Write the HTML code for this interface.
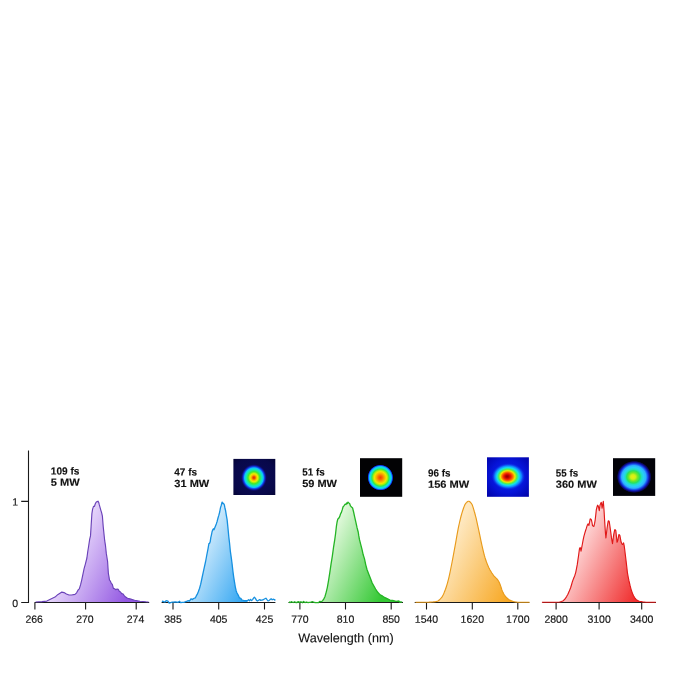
<!DOCTYPE html>
<html lang="en"><head><meta charset="utf-8"><title>Wavelength spectra</title>
<style>
html,body{margin:0;padding:0;background:#fff;}
body{width:696px;height:696px;overflow:hidden;}
svg{display:block;}
text{font-family:"Liberation Sans",Arial,sans-serif;fill:#111;text-rendering:geometricPrecision;}
.tk{font-size:10.5px;text-anchor:middle;stroke:#111;stroke-width:0.15px;}
.yl{font-size:10.5px;text-anchor:end;stroke:#111;stroke-width:0.15px;}
.lb{font-size:10.3px;font-weight:bold;stroke:#111;stroke-width:0.12px;}
.xl{font-size:12.7px;text-anchor:middle;stroke:#111;stroke-width:0.12px;}
.ax{stroke:#1a1a1a;stroke-width:1.1;fill:none;}
</style></head><body>
<svg width="696" height="696" viewBox="0 0 696 696">
<rect width="696" height="696" fill="#fff"/>
<defs>
<linearGradient id="gp" gradientUnits="userSpaceOnUse" x1="80.8" y1="521.4" x2="148.6" y2="553.9"><stop offset="0" stop-color="#ecdffc"/><stop offset="1" stop-color="#9358e2"/></linearGradient>
<linearGradient id="gb" gradientUnits="userSpaceOnUse" x1="207.3" y1="522.1" x2="275.4" y2="554.3"><stop offset="0" stop-color="#dcf0fd"/><stop offset="1" stop-color="#1c9cf0"/></linearGradient>
<linearGradient id="gg" gradientUnits="userSpaceOnUse" x1="334.2" y1="522.2" x2="402.2" y2="554.3"><stop offset="0" stop-color="#e6fae0"/><stop offset="1" stop-color="#34c834"/></linearGradient>
<linearGradient id="go" gradientUnits="userSpaceOnUse" x1="461.1" y1="521.5" x2="529.5" y2="553.9"><stop offset="0" stop-color="#fee8c0"/><stop offset="1" stop-color="#f7a824"/></linearGradient>
<linearGradient id="gr" gradientUnits="userSpaceOnUse" x1="587.5" y1="521.5" x2="655.8" y2="553.9"><stop offset="0" stop-color="#fed8d8"/><stop offset="1" stop-color="#f03030"/></linearGradient>
<radialGradient id="b1" cx="0.5" cy="0.5" r="0.5">
<stop offset="0" stop-color="#e02800"/><stop offset="0.09" stop-color="#ee5000"/><stop offset="0.195" stop-color="#f8b800"/><stop offset="0.29" stop-color="#e8f000"/><stop offset="0.44" stop-color="#40e830"/><stop offset="0.60" stop-color="#10e8c0"/><stop offset="0.71" stop-color="#10c0ff"/><stop offset="0.79" stop-color="#1050f0"/><stop offset="0.87" stop-color="#1018a8"/><stop offset="1" stop-color="#0a0a52" stop-opacity="0"/></radialGradient>
<radialGradient id="b2" cx="0.5" cy="0.5" r="0.5">
<stop offset="0" stop-color="#f04000"/><stop offset="0.15" stop-color="#f86800"/><stop offset="0.30" stop-color="#f8a800"/><stop offset="0.46" stop-color="#f0e800"/><stop offset="0.56" stop-color="#a0f010"/><stop offset="0.66" stop-color="#30e850"/><stop offset="0.76" stop-color="#10e8d0"/><stop offset="0.86" stop-color="#10c0ff"/><stop offset="0.93" stop-color="#1040f0"/><stop offset="0.98" stop-color="#080870"/><stop offset="1" stop-color="#000010" stop-opacity="0"/></radialGradient>
<radialGradient id="b3" cx="0.5" cy="0.5" r="0.5" fx="0.46" fy="0.5">
<stop offset="0" stop-color="#900000"/><stop offset="0.10" stop-color="#b80000"/><stop offset="0.22" stop-color="#f02000"/><stop offset="0.33" stop-color="#f87800"/><stop offset="0.43" stop-color="#f0e800"/><stop offset="0.54" stop-color="#50f050"/><stop offset="0.66" stop-color="#10e0f0"/><stop offset="0.80" stop-color="#1080ff"/><stop offset="1" stop-color="#0c28e8" stop-opacity="0"/></radialGradient>
<radialGradient id="b3bg" cx="0.5" cy="0.48" r="0.75">
<stop offset="0" stop-color="#0c2cf0"/><stop offset="0.55" stop-color="#0614d8"/><stop offset="1" stop-color="#0000a0"/></radialGradient>
<radialGradient id="b4" cx="0.5" cy="0.5" r="0.5" fx="0.46" fy="0.5">
<stop offset="0" stop-color="#e8f010"/><stop offset="0.14" stop-color="#d0f018"/><stop offset="0.26" stop-color="#70e828"/><stop offset="0.38" stop-color="#28e060"/><stop offset="0.47" stop-color="#20e0c0"/><stop offset="0.58" stop-color="#28d0f8"/><stop offset="0.70" stop-color="#30b0ff"/><stop offset="0.79" stop-color="#1850f0"/><stop offset="0.88" stop-color="#1010a0"/><stop offset="0.96" stop-color="#060640"/><stop offset="1" stop-color="#000008" stop-opacity="0"/></radialGradient>
<radialGradient id="b1bg" cx="0.5" cy="0.5" r="0.75">
<stop offset="0" stop-color="#0b0b58"/><stop offset="0.7" stop-color="#08084a"/><stop offset="1" stop-color="#040430"/></radialGradient>
</defs>
<path class="ax" d="M28.5,450.6 V603.0 M21.2,501.4 H28.5 M21.2,602.5 H29"/>
<text class="yl" x="18.2" y="505.5" transform="rotate(0.03 18.2 505.5)">1</text>
<text class="yl" x="18.2" y="606.9" transform="rotate(0.03 18.2 606.9)">0</text>
<path d="M35.6,602.0 L42.0,601.6 L46.8,601.1 L52.4,598.3 L55.0,597.1 L58.0,594.4 L60.0,593.2 L61.8,592.1 L64.0,592.6 L66.4,594.0 L69.0,595.0 L71.5,595.0 L75.0,594.4 L76.6,592.8 L78.2,589.9 L79.3,588.8 L80.6,584.7 L81.7,580.1 L82.9,574.3 L84.1,568.7 L85.3,564.3 L86.9,558.0 L87.7,552.0 L88.5,547.0 L89.7,539.2 L90.5,535.9 L91.1,526.3 L91.9,513.6 L92.6,509.2 L93.2,507.3 L93.5,506.3 L94.5,506.3 L95.3,503.8 L96.1,502.3 L97.2,501.6 L98.1,501.2 L98.7,502.4 L99.2,504.4 L100.8,510.1 L101.6,512.6 L102.4,516.2 L103.2,526.4 L104.7,540.7 L105.5,545.7 L106.3,553.4 L107.6,561.5 L108.0,567.9 L108.4,573.7 L109.0,576.8 L109.5,580.2 L110.4,581.1 L111.4,583.6 L112.3,584.3 L113.4,588.4 L114.6,588.7 L115.8,589.7 L117.0,589.1 L118.2,589.4 L119.3,591.3 L120.5,592.0 L121.7,593.6 L122.9,593.7 L124.0,595.4 L125.3,596.8 L127.5,598.3 L130.0,598.9 L134.6,600.3 L140.0,601.2 L145.8,601.8 L148.6,602.0 L148.6,602.5 L35.6,602.5 Z" fill="url(#gp)" stroke="none"/>
<path class="ax" d="M34.5,602.5 H149.2 M34.9,602.5 V609.6 M85.6,602.5 V609.6 M136.2,602.5 V609.6"/>
<path d="M35.6,602.0 L42.0,601.6 L46.8,601.1 L52.4,598.3 L55.0,597.1 L58.0,594.4 L60.0,593.2 L61.8,592.1 L64.0,592.6 L66.4,594.0 L69.0,595.0 L71.5,595.0 L75.0,594.4 L76.6,592.8 L78.2,589.9 L79.3,588.8 L80.6,584.7 L81.7,580.1 L82.9,574.3 L84.1,568.7 L85.3,564.3 L86.9,558.0 L87.7,552.0 L88.5,547.0 L89.7,539.2 L90.5,535.9 L91.1,526.3 L91.9,513.6 L92.6,509.2 L93.2,507.3 L93.5,506.3 L94.5,506.3 L95.3,503.8 L96.1,502.3 L97.2,501.6 L98.1,501.2 L98.7,502.4 L99.2,504.4 L100.8,510.1 L101.6,512.6 L102.4,516.2 L103.2,526.4 L104.7,540.7 L105.5,545.7 L106.3,553.4 L107.6,561.5 L108.0,567.9 L108.4,573.7 L109.0,576.8 L109.5,580.2 L110.4,581.1 L111.4,583.6 L112.3,584.3 L113.4,588.4 L114.6,588.7 L115.8,589.7 L117.0,589.1 L118.2,589.4 L119.3,591.3 L120.5,592.0 L121.7,593.6 L122.9,593.7 L124.0,595.4 L125.3,596.8 L127.5,598.3 L130.0,598.9 L134.6,600.3 L140.0,601.2 L145.8,601.8 L148.6,602.0" fill="none" stroke="#6a42b8" stroke-width="1.15" stroke-linejoin="round"/>
<text class="tk" x="34.2" y="622.7" transform="rotate(0.03 34.2 622.7)">266</text>
<text class="tk" x="84.9" y="622.7" transform="rotate(0.03 84.9 622.7)">270</text>
<text class="tk" x="135.5" y="622.7" transform="rotate(0.03 135.5 622.7)">274</text>
<text class="lb" x="50.8" y="474.4" transform="rotate(0.03 50.8 474.4)" textLength="28.6" lengthAdjust="spacingAndGlyphs">109 fs</text>
<text class="lb" x="50.8" y="485.7" transform="rotate(0.03 50.8 485.7)" textLength="28.9" lengthAdjust="spacingAndGlyphs">5 MW</text>
<path d="M187.0,601.3 L188.2,600.6 L189.4,601.1 L191.0,598.8 L192.4,599.6 L193.6,598.5 L195.4,597.8 L196.4,595.7 L197.2,594.4 L198.2,592.0 L199.5,588.5 L200.7,584.2 L201.9,578.5 L203.1,572.8 L204.3,567.3 L205.6,561.5 L206.8,555.0 L208.1,548.3 L208.9,543.6 L209.6,543.3 L210.2,541.8 L210.8,537.7 L211.4,535.1 L212.0,532.0 L212.6,530.1 L213.4,528.7 L214.0,529.8 L214.6,528.3 L215.5,525.9 L216.3,523.9 L217.2,521.2 L218.0,518.0 L218.8,515.4 L219.7,512.0 L220.5,507.6 L221.3,505.2 L221.8,503.1 L222.2,502.1 L222.7,503.6 L223.2,503.1 L223.8,503.8 L224.4,505.1 L225.0,508.5 L225.5,510.2 L226.3,515.2 L227.1,519.6 L228.0,528.4 L228.8,536.8 L229.6,543.5 L230.4,551.7 L231.3,557.8 L232.1,564.0 L232.9,571.1 L233.7,577.1 L234.6,582.7 L235.4,587.5 L236.2,590.9 L237.0,593.0 L238.2,595.1 L239.5,597.9 L240.8,598.4 L242.0,600.0 L244.0,600.6 L246.0,600.7 L247.5,600.6 L247.5,602.5 L187.0,602.5 Z" fill="url(#gb)" stroke="none"/>
<path class="ax" d="M161.6,602.5 H275.4 M173.0,602.5 V609.6 M218.7,602.5 V609.6 M264.5,602.5 V609.6"/>
<path d="M161.9,601.1 L163.4,601.5 L165.0,602.1 L166.1,600.6 L167.9,601.2 L169.2,603.0 L170.7,602.6 L172.2,602.1 L173.3,602.1 L175.2,601.9 L176.9,602.2 L178.0,602.4 L179.6,601.3 L180.7,602.7 L182.1,602.3 L184.0,602.3 L185.9,601.5 L187.0,601.3 L188.2,600.6 L189.4,601.1 L191.0,598.8 L192.4,599.6 L193.6,598.5 L195.4,597.8 L196.4,595.7 L197.2,594.4 L198.2,592.0 L199.5,588.5 L200.7,584.2 L201.9,578.5 L203.1,572.8 L204.3,567.3 L205.6,561.5 L206.8,555.0 L208.1,548.3 L208.9,543.6 L209.6,543.3 L210.2,541.8 L210.8,537.7 L211.4,535.1 L212.0,532.0 L212.6,530.1 L213.4,528.7 L214.0,529.8 L214.6,528.3 L215.5,525.9 L216.3,523.9 L217.2,521.2 L218.0,518.0 L218.8,515.4 L219.7,512.0 L220.5,507.6 L221.3,505.2 L221.8,503.1 L222.2,502.1 L222.7,503.6 L223.2,503.1 L223.8,503.8 L224.4,505.1 L225.0,508.5 L225.5,510.2 L226.3,515.2 L227.1,519.6 L228.0,528.4 L228.8,536.8 L229.6,543.5 L230.4,551.7 L231.3,557.8 L232.1,564.0 L232.9,571.1 L233.7,577.1 L234.6,582.7 L235.4,587.5 L236.2,590.9 L237.0,593.0 L238.2,595.1 L239.5,597.9 L240.8,598.4 L242.0,600.0 L244.0,600.6 L246.0,600.7 L247.5,600.6 L248.5,599.6 L249.5,600.8 L250.5,599.4 L251.6,600.6 L252.6,599.6 L253.5,598.2 L254.4,597.2 L255.4,598.4 L256.5,600.4 L257.5,601.0 L258.6,600.2 L259.7,599.6 L260.8,600.4 L262.0,600.0 L263.2,599.8 L264.4,599.0 L265.9,598.2 L267.0,599.6 L268.0,600.8 L269.0,600.6 L270.0,599.6 L271.2,598.8 L272.2,599.8 L273.2,599.2 L274.3,599.6 L275.4,600.4" fill="none" stroke="#1690e0" stroke-width="1.3" stroke-linejoin="round"/>
<text class="tk" x="173.0" y="622.7" transform="rotate(0.03 173.0 622.7)">385</text>
<text class="tk" x="218.7" y="622.7" transform="rotate(0.03 218.7 622.7)">405</text>
<text class="tk" x="264.5" y="622.7" transform="rotate(0.03 264.5 622.7)">425</text>
<text class="lb" x="174.3" y="475.6" transform="rotate(0.03 174.3 475.6)" textLength="22.7" lengthAdjust="spacingAndGlyphs">47 fs</text>
<text class="lb" x="174.3" y="486.9" transform="rotate(0.03 174.3 486.9)" textLength="35.0" lengthAdjust="spacingAndGlyphs">31 MW</text>
<path d="M288.9,601.9 L290.2,602.6 L291.4,601.7 L292.3,602.1 L293.3,602.5 L294.7,601.7 L295.8,602.5 L297.1,602.5 L298.2,601.6 L299.2,602.5 L300.2,601.9 L301.4,602.0 L302.5,602.7 L303.5,601.4 L305.0,602.6 L306.5,602.0 L308.1,602.7 L309.1,602.4 L310.5,602.3 L311.7,601.8 L312.8,601.7 L313.7,602.2 L314.7,602.5 L315.6,602.7 L316.9,602.7 L318.4,602.7 L319.7,601.4 L321.1,601.6 L321.6,601.6 L322.6,600.6 L323.7,599.1 L324.9,596.7 L326.1,592.6 L327.3,587.6 L328.5,580.9 L329.8,572.6 L331.0,564.4 L332.3,556.3 L333.5,547.7 L334.8,539.4 L335.6,533.5 L336.4,526.4 L337.0,522.5 L337.7,519.3 L338.7,518.3 L339.7,516.6 L340.5,514.0 L341.4,512.4 L342.2,509.9 L343.0,507.0 L344.1,505.6 L345.2,504.1 L346.0,504.5 L346.7,502.9 L347.4,503.6 L348.0,502.1 L348.8,502.9 L349.6,503.5 L350.5,505.9 L351.5,507.1 L352.6,508.0 L353.6,512.0 L354.6,516.6 L355.8,521.8 L357.1,527.9 L358.2,532.0 L358.8,535.9 L359.5,539.7 L360.7,544.3 L362.0,549.4 L363.2,554.8 L364.5,558.9 L365.7,564.6 L367.0,569.5 L368.6,573.8 L370.3,578.1 L372.0,582.6 L373.6,585.5 L375.6,589.0 L377.7,592.3 L380.2,594.9 L382.7,596.2 L385.1,597.7 L387.6,598.8 L390.0,600.1 L392.6,600.3 L396.0,601.3 L399.0,601.0 L399.5,602.2 L400.7,601.9 L402.2,602.1 L402.2,602.5 L288.9,602.5 Z" fill="url(#gg)" stroke="none"/>
<path class="ax" d="M288.5,602.5 H403 M299.9,602.5 V609.6 M345.5,602.5 V609.6 M391.2,602.5 V609.6"/>
<path d="M288.9,601.9 L290.2,602.6 L291.4,601.7 L292.3,602.1 L293.3,602.5 L294.7,601.7 L295.8,602.5 L297.1,602.5 L298.2,601.6 L299.2,602.5 L300.2,601.9 L301.4,602.0 L302.5,602.7 L303.5,601.4 L305.0,602.6 L306.5,602.0 L308.1,602.7 L309.1,602.4 L310.5,602.3 L311.7,601.8 L312.8,601.7 L313.7,602.2 L314.7,602.5 L315.6,602.7 L316.9,602.7 L318.4,602.7 L319.7,601.4 L321.1,601.6 L321.6,601.6 L322.6,600.6 L323.7,599.1 L324.9,596.7 L326.1,592.6 L327.3,587.6 L328.5,580.9 L329.8,572.6 L331.0,564.4 L332.3,556.3 L333.5,547.7 L334.8,539.4 L335.6,533.5 L336.4,526.4 L337.0,522.5 L337.7,519.3 L338.7,518.3 L339.7,516.6 L340.5,514.0 L341.4,512.4 L342.2,509.9 L343.0,507.0 L344.1,505.6 L345.2,504.1 L346.0,504.5 L346.7,502.9 L347.4,503.6 L348.0,502.1 L348.8,502.9 L349.6,503.5 L350.5,505.9 L351.5,507.1 L352.6,508.0 L353.6,512.0 L354.6,516.6 L355.8,521.8 L357.1,527.9 L358.2,532.0 L358.8,535.9 L359.5,539.7 L360.7,544.3 L362.0,549.4 L363.2,554.8 L364.5,558.9 L365.7,564.6 L367.0,569.5 L368.6,573.8 L370.3,578.1 L372.0,582.6 L373.6,585.5 L375.6,589.0 L377.7,592.3 L380.2,594.9 L382.7,596.2 L385.1,597.7 L387.6,598.8 L390.0,600.1 L392.6,600.3 L396.0,601.3 L399.0,601.0 L399.5,602.2 L400.7,601.9 L402.2,602.1" fill="none" stroke="#24b424" stroke-width="1.3" stroke-linejoin="round"/>
<text class="tk" x="299.9" y="622.7" transform="rotate(0.03 299.9 622.7)">770</text>
<text class="tk" x="345.5" y="622.7" transform="rotate(0.03 345.5 622.7)">810</text>
<text class="tk" x="391.2" y="622.7" transform="rotate(0.03 391.2 622.7)">850</text>
<text class="lb" x="302.2" y="475.6" transform="rotate(0.03 302.2 475.6)" textLength="22.5" lengthAdjust="spacingAndGlyphs">51 fs</text>
<text class="lb" x="302.2" y="486.9" transform="rotate(0.03 302.2 486.9)" textLength="34.8" lengthAdjust="spacingAndGlyphs">59 MW</text>
<path d="M415.5,602.2 L416.1,602.2 L416.7,602.2 L417.3,602.2 L417.9,602.2 L418.5,602.2 L419.1,602.2 L419.7,602.2 L420.3,602.2 L420.9,602.2 L421.5,602.2 L422.1,602.2 L422.7,602.2 L423.3,602.2 L423.9,602.2 L424.5,602.2 L425.1,602.2 L425.7,602.2 L426.3,602.2 L426.9,602.2 L427.5,602.2 L428.1,602.2 L428.7,602.2 L429.3,602.1 L429.9,602.1 L430.5,602.1 L431.1,602.1 L431.7,602.0 L432.3,602.0 L432.9,602.0 L433.5,601.9 L434.1,601.9 L434.7,601.8 L435.3,601.7 L435.9,601.6 L436.5,601.5 L437.1,601.3 L437.7,601.1 L438.3,600.8 L438.9,600.3 L439.5,599.8 L440.1,599.2 L440.7,598.5 L441.3,597.8 L441.9,597.1 L442.5,596.1 L443.1,595.0 L443.7,593.7 L444.3,592.3 L444.9,590.8 L445.5,589.3 L446.1,587.5 L446.7,585.6 L447.3,583.6 L447.9,581.4 L448.5,579.1 L449.1,576.6 L449.7,573.9 L450.3,571.0 L450.9,568.0 L451.5,565.0 L452.1,562.0 L452.7,558.9 L453.3,555.7 L453.9,552.4 L454.5,549.2 L455.1,545.9 L455.7,542.6 L456.3,539.2 L456.9,535.7 L457.5,532.4 L458.1,529.1 L458.7,526.2 L459.3,523.5 L459.9,520.8 L460.5,518.3 L461.1,516.0 L461.7,513.8 L462.3,511.9 L462.9,510.0 L463.5,508.2 L464.1,506.6 L464.7,505.1 L465.3,504.0 L465.9,503.2 L466.5,502.6 L467.1,501.9 L467.7,501.5 L468.3,501.2 L468.9,501.2 L469.5,501.5 L470.1,502.0 L470.7,502.6 L471.3,503.3 L471.9,504.2 L472.5,505.6 L473.1,507.4 L473.7,509.3 L474.3,511.5 L474.9,513.5 L475.5,515.8 L476.1,518.2 L476.7,520.9 L477.3,523.6 L477.9,526.3 L478.5,529.0 L479.1,531.8 L479.7,534.7 L480.3,537.7 L480.9,540.6 L481.5,543.3 L482.1,546.0 L482.7,548.6 L483.3,551.2 L483.9,553.6 L484.5,555.9 L485.1,557.9 L485.7,559.7 L486.3,561.5 L486.9,563.1 L487.5,564.6 L488.1,566.1 L488.7,567.4 L489.3,568.6 L489.9,569.8 L490.5,570.8 L491.1,571.8 L491.7,572.8 L492.3,573.7 L492.9,574.5 L493.5,575.3 L494.1,576.1 L494.7,576.7 L495.3,577.3 L495.9,577.9 L496.5,578.4 L497.1,579.1 L497.7,579.9 L498.3,580.8 L498.9,581.8 L499.5,583.0 L500.1,584.5 L500.7,586.1 L501.3,588.0 L501.9,589.9 L502.5,591.4 L503.1,592.6 L503.7,593.8 L504.3,594.8 L504.9,595.7 L505.5,596.5 L506.1,597.1 L506.7,597.7 L507.3,598.3 L507.9,598.8 L508.5,599.2 L509.1,599.7 L509.7,600.0 L510.3,600.4 L510.9,600.6 L511.5,600.9 L512.1,601.1 L512.7,601.3 L513.3,601.5 L513.9,601.7 L514.5,601.8 L515.1,601.9 L515.7,602.0 L516.3,602.0 L516.9,602.1 L517.5,602.2 L518.1,602.2 L518.7,602.2 L519.3,602.2 L519.9,602.2 L520.5,602.2 L521.1,602.2 L521.7,602.2 L522.3,602.2 L522.9,602.2 L523.5,602.2 L524.1,602.2 L524.7,602.2 L525.3,602.2 L525.9,602.2 L526.5,602.2 L527.1,602.2 L527.7,602.2 L528.3,602.2 L528.9,602.2 L529.5,602.2 L529.5,602.5 L415.5,602.5 Z" fill="url(#go)" stroke="none"/>
<path class="ax" d="M414.7,602.5 H529.3 M426.5,602.5 V609.6 M472.3,602.5 V609.6 M517.8,602.5 V609.6"/>
<path d="M415.5,602.2 L416.1,602.2 L416.7,602.2 L417.3,602.2 L417.9,602.2 L418.5,602.2 L419.1,602.2 L419.7,602.2 L420.3,602.2 L420.9,602.2 L421.5,602.2 L422.1,602.2 L422.7,602.2 L423.3,602.2 L423.9,602.2 L424.5,602.2 L425.1,602.2 L425.7,602.2 L426.3,602.2 L426.9,602.2 L427.5,602.2 L428.1,602.2 L428.7,602.2 L429.3,602.1 L429.9,602.1 L430.5,602.1 L431.1,602.1 L431.7,602.0 L432.3,602.0 L432.9,602.0 L433.5,601.9 L434.1,601.9 L434.7,601.8 L435.3,601.7 L435.9,601.6 L436.5,601.5 L437.1,601.3 L437.7,601.1 L438.3,600.8 L438.9,600.3 L439.5,599.8 L440.1,599.2 L440.7,598.5 L441.3,597.8 L441.9,597.1 L442.5,596.1 L443.1,595.0 L443.7,593.7 L444.3,592.3 L444.9,590.8 L445.5,589.3 L446.1,587.5 L446.7,585.6 L447.3,583.6 L447.9,581.4 L448.5,579.1 L449.1,576.6 L449.7,573.9 L450.3,571.0 L450.9,568.0 L451.5,565.0 L452.1,562.0 L452.7,558.9 L453.3,555.7 L453.9,552.4 L454.5,549.2 L455.1,545.9 L455.7,542.6 L456.3,539.2 L456.9,535.7 L457.5,532.4 L458.1,529.1 L458.7,526.2 L459.3,523.5 L459.9,520.8 L460.5,518.3 L461.1,516.0 L461.7,513.8 L462.3,511.9 L462.9,510.0 L463.5,508.2 L464.1,506.6 L464.7,505.1 L465.3,504.0 L465.9,503.2 L466.5,502.6 L467.1,501.9 L467.7,501.5 L468.3,501.2 L468.9,501.2 L469.5,501.5 L470.1,502.0 L470.7,502.6 L471.3,503.3 L471.9,504.2 L472.5,505.6 L473.1,507.4 L473.7,509.3 L474.3,511.5 L474.9,513.5 L475.5,515.8 L476.1,518.2 L476.7,520.9 L477.3,523.6 L477.9,526.3 L478.5,529.0 L479.1,531.8 L479.7,534.7 L480.3,537.7 L480.9,540.6 L481.5,543.3 L482.1,546.0 L482.7,548.6 L483.3,551.2 L483.9,553.6 L484.5,555.9 L485.1,557.9 L485.7,559.7 L486.3,561.5 L486.9,563.1 L487.5,564.6 L488.1,566.1 L488.7,567.4 L489.3,568.6 L489.9,569.8 L490.5,570.8 L491.1,571.8 L491.7,572.8 L492.3,573.7 L492.9,574.5 L493.5,575.3 L494.1,576.1 L494.7,576.7 L495.3,577.3 L495.9,577.9 L496.5,578.4 L497.1,579.1 L497.7,579.9 L498.3,580.8 L498.9,581.8 L499.5,583.0 L500.1,584.5 L500.7,586.1 L501.3,588.0 L501.9,589.9 L502.5,591.4 L503.1,592.6 L503.7,593.8 L504.3,594.8 L504.9,595.7 L505.5,596.5 L506.1,597.1 L506.7,597.7 L507.3,598.3 L507.9,598.8 L508.5,599.2 L509.1,599.7 L509.7,600.0 L510.3,600.4 L510.9,600.6 L511.5,600.9 L512.1,601.1 L512.7,601.3 L513.3,601.5 L513.9,601.7 L514.5,601.8 L515.1,601.9 L515.7,602.0 L516.3,602.0 L516.9,602.1 L517.5,602.2 L518.1,602.2 L518.7,602.2 L519.3,602.2 L519.9,602.2 L520.5,602.2 L521.1,602.2 L521.7,602.2 L522.3,602.2 L522.9,602.2 L523.5,602.2 L524.1,602.2 L524.7,602.2 L525.3,602.2 L525.9,602.2 L526.5,602.2 L527.1,602.2 L527.7,602.2 L528.3,602.2 L528.9,602.2 L529.5,602.2" fill="none" stroke="#e89a1a" stroke-width="1.15" stroke-linejoin="round"/>
<text class="tk" x="426.5" y="622.7" transform="rotate(0.03 426.5 622.7)">1540</text>
<text class="tk" x="472.3" y="622.7" transform="rotate(0.03 472.3 622.7)">1620</text>
<text class="tk" x="517.8" y="622.7" transform="rotate(0.03 517.8 622.7)">1700</text>
<text class="lb" x="428.0" y="476.4" transform="rotate(0.03 428.0 476.4)" textLength="22.4" lengthAdjust="spacingAndGlyphs">96 fs</text>
<text class="lb" x="428.0" y="487.7" transform="rotate(0.03 428.0 487.7)" textLength="41.3" lengthAdjust="spacingAndGlyphs">156 MW</text>
<path d="M541.9,602.2 L555.0,602.2 L559.5,602.0 L561.5,601.6 L563.3,600.7 L565.0,599.0 L566.6,596.6 L567.9,594.2 L569.1,591.6 L570.7,587.5 L571.6,584.5 L572.4,581.7 L573.2,579.4 L574.0,577.6 L574.9,575.2 L575.7,572.6 L576.5,568.6 L577.3,564.4 L577.9,560.2 L578.5,556.1 L579.0,552.2 L579.5,548.7 L580.1,547.5 L580.6,549.0 L581.0,551.1 L581.7,547.6 L582.3,544.5 L583.1,540.2 L583.9,536.3 L584.8,533.2 L585.6,530.5 L586.3,528.4 L586.9,526.4 L587.5,524.8 L588.1,523.9 L588.5,524.6 L588.9,525.5 L589.6,522.0 L590.2,518.9 L590.8,519.0 L591.4,519.8 L592.0,522.5 L592.5,525.5 L593.2,526.2 L593.9,526.4 L594.6,523.4 L595.2,519.8 L595.8,514.6 L596.3,509.9 L597.0,507.0 L597.6,505.2 L598.1,505.8 L598.5,506.9 L598.9,508.8 L599.3,510.7 L599.7,507.5 L600.1,504.9 L600.7,503.4 L601.3,502.4 L601.7,505.0 L602.1,508.2 L602.7,504.5 L603.3,501.3 L603.7,506.0 L604.1,511.5 L604.6,520.0 L605.1,528.0 L605.5,533.4 L605.9,537.9 L606.5,533.0 L607.1,528.0 L607.7,524.0 L608.2,521.1 L608.7,520.9 L609.2,521.4 L609.8,525.4 L610.4,529.7 L611.0,534.0 L611.5,537.9 L612.0,541.0 L612.5,543.7 L613.1,539.0 L613.7,534.6 L614.3,531.6 L614.8,529.7 L615.3,529.8 L615.8,530.5 L616.4,536.0 L617.0,542.1 L617.4,541.6 L617.8,540.4 L618.4,537.2 L618.9,534.6 L619.4,534.7 L619.9,535.5 L620.5,538.8 L621.1,542.1 L621.8,543.6 L622.4,544.5 L623.0,543.9 L623.6,542.9 L624.2,545.8 L624.7,549.5 L625.4,555.2 L626.1,561.1 L626.8,567.0 L627.4,572.6 L628.2,577.0 L629.0,580.9 L630.0,585.2 L631.0,589.1 L632.2,592.6 L633.5,595.7 L634.8,597.8 L636.0,599.4 L637.6,600.5 L639.3,601.2 L642.6,601.9 L646.0,602.2 L655.8,602.2 L655.8,602.5 L541.9,602.5 Z" fill="url(#gr)" stroke="none"/>
<path class="ax" d="M542.4,602.5 H656 M556.1,602.5 V609.6 M599.1,602.5 V609.6 M641.7,602.5 V609.6"/>
<path d="M541.9,602.2 L555.0,602.2 L559.5,602.0 L561.5,601.6 L563.3,600.7 L565.0,599.0 L566.6,596.6 L567.9,594.2 L569.1,591.6 L570.7,587.5 L571.6,584.5 L572.4,581.7 L573.2,579.4 L574.0,577.6 L574.9,575.2 L575.7,572.6 L576.5,568.6 L577.3,564.4 L577.9,560.2 L578.5,556.1 L579.0,552.2 L579.5,548.7 L580.1,547.5 L580.6,549.0 L581.0,551.1 L581.7,547.6 L582.3,544.5 L583.1,540.2 L583.9,536.3 L584.8,533.2 L585.6,530.5 L586.3,528.4 L586.9,526.4 L587.5,524.8 L588.1,523.9 L588.5,524.6 L588.9,525.5 L589.6,522.0 L590.2,518.9 L590.8,519.0 L591.4,519.8 L592.0,522.5 L592.5,525.5 L593.2,526.2 L593.9,526.4 L594.6,523.4 L595.2,519.8 L595.8,514.6 L596.3,509.9 L597.0,507.0 L597.6,505.2 L598.1,505.8 L598.5,506.9 L598.9,508.8 L599.3,510.7 L599.7,507.5 L600.1,504.9 L600.7,503.4 L601.3,502.4 L601.7,505.0 L602.1,508.2 L602.7,504.5 L603.3,501.3 L603.7,506.0 L604.1,511.5 L604.6,520.0 L605.1,528.0 L605.5,533.4 L605.9,537.9 L606.5,533.0 L607.1,528.0 L607.7,524.0 L608.2,521.1 L608.7,520.9 L609.2,521.4 L609.8,525.4 L610.4,529.7 L611.0,534.0 L611.5,537.9 L612.0,541.0 L612.5,543.7 L613.1,539.0 L613.7,534.6 L614.3,531.6 L614.8,529.7 L615.3,529.8 L615.8,530.5 L616.4,536.0 L617.0,542.1 L617.4,541.6 L617.8,540.4 L618.4,537.2 L618.9,534.6 L619.4,534.7 L619.9,535.5 L620.5,538.8 L621.1,542.1 L621.8,543.6 L622.4,544.5 L623.0,543.9 L623.6,542.9 L624.2,545.8 L624.7,549.5 L625.4,555.2 L626.1,561.1 L626.8,567.0 L627.4,572.6 L628.2,577.0 L629.0,580.9 L630.0,585.2 L631.0,589.1 L632.2,592.6 L633.5,595.7 L634.8,597.8 L636.0,599.4 L637.6,600.5 L639.3,601.2 L642.6,601.9 L646.0,602.2 L655.8,602.2" fill="none" stroke="#e01818" stroke-width="1.15" stroke-linejoin="round"/>
<text class="tk" x="556.1" y="622.7" transform="rotate(0.03 556.1 622.7)">2800</text>
<text class="tk" x="599.1" y="622.7" transform="rotate(0.03 599.1 622.7)">3100</text>
<text class="tk" x="641.7" y="622.7" transform="rotate(0.03 641.7 622.7)">3400</text>
<text class="lb" x="555.8" y="476.4" transform="rotate(0.03 555.8 476.4)" textLength="22.3" lengthAdjust="spacingAndGlyphs">55 fs</text>
<text class="lb" x="555.8" y="487.7" transform="rotate(0.03 555.8 487.7)" textLength="41.0" lengthAdjust="spacingAndGlyphs">360 MW</text>
<text class="xl" x="346" y="642.2" transform="rotate(0.03 346 642.2)" textLength="95.6" lengthAdjust="spacingAndGlyphs">Wavelength (nm)</text>
<g>
<rect x="233.4" y="458.9" width="41.9" height="36.1" fill="url(#b1bg)"/>
<ellipse cx="253.9" cy="477.7" rx="13.2" ry="13.8" fill="url(#b1)"/>
<rect x="360" y="458.2" width="42.2" height="38.6" fill="#020204"/>
<ellipse cx="380.4" cy="477.6" rx="12.9" ry="13.0" fill="url(#b2)" transform="rotate(-25 380.4 477.6)"/>
<rect x="487" y="457.3" width="41.9" height="39.5" fill="url(#b3bg)"/>
<ellipse cx="508.4" cy="476.5" rx="16.8" ry="13.4" fill="url(#b3)"/>
<rect x="613" y="458.2" width="42.2" height="37.7" fill="#020208"/>
<ellipse cx="634.2" cy="476.9" rx="17.4" ry="16.2" fill="url(#b4)"/>
</g>
</svg></body></html>
